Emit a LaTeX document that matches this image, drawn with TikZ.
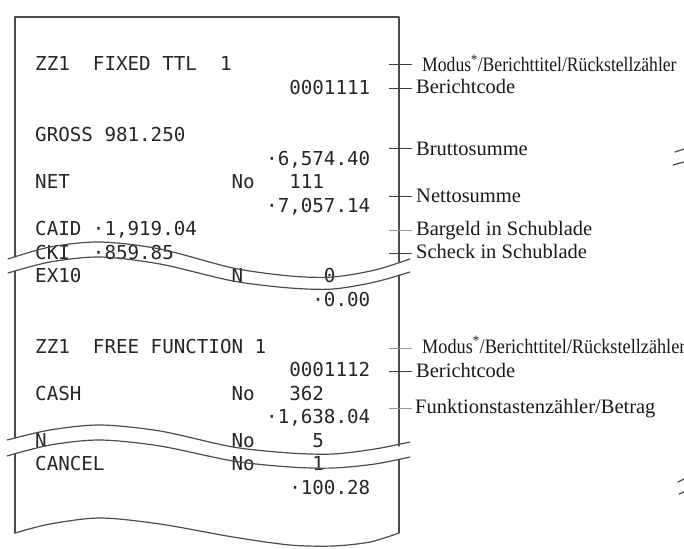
\documentclass[tikz,border=0pt]{standalone}
\usepackage{fontspec}
\setmainfont{Liberation Serif}
\newfontfamily\rcpt{DejaVu Sans Mono}
\begin{document}
\begin{tikzpicture}[x=1pt,y=-1pt,
  edge/.style={draw=black!70, line width=1.2pt, line join=round, line cap=round},
  rt/.style={anchor=base west, inner sep=0pt, font=\rcpt\fontsize{19.2}{19.2}\selectfont, text=black!85},
  lab/.style={anchor=base west, inner sep=0pt, font=\fontsize{20.5}{20.5}\selectfont, text=black!90},
  tick/.style={draw=black!75, line width=1pt},
  ltick/.style={draw=black!40, line width=1pt}]
\useasboundingbox (0,0) rectangle (684,548);
\newcommand\rcell[4]{\node[rt] (#1) at ({35+11.55*#3},{71+23.5*#2}) {#4};}
% receipt text
\rcell{a1}{0}{0}{ZZ1}\rcell{a2}{0}{5}{FIXED}\rcell{a3}{0}{11}{TTL}\rcell{a4}{0}{16}{1}
\rcell{b1}{1}{22}{0001111}
\rcell{c1}{3}{0}{GROSS}\rcell{c2}{3}{6}{981.250}
\rcell{d1}{4}{20}{·6,574.40}
\rcell{e1}{5}{0}{NET}\rcell{e2}{5}{17}{No}\rcell{e3}{5}{22}{111}
\rcell{f1}{6}{20}{·7,057.14}
\rcell{g1}{7}{0}{CAID}\rcell{g2}{7}{5}{·1,919.04}
\rcell{h1}{8}{0}{CKI}\rcell{h2}{8}{5}{·859.85}
\rcell{i1}{9}{0}{EX10}\rcell{i2}{9}{17}{N}\rcell{i3}{9}{25}{0}
\rcell{j1}{10}{24}{·0.00}
\rcell{k1}{12}{0}{ZZ1}\rcell{k2}{12}{5}{FREE}\rcell{k3}{12}{10}{FUNCTION}\rcell{k4}{12}{19}{1}
\rcell{l1}{13}{22}{0001112}
\rcell{m1}{14}{0}{CASH}\rcell{m2}{14}{17}{No}\rcell{m3}{14}{22}{362}
\rcell{n1}{15}{20}{·1,638.04}
\rcell{o1}{16}{0}{N}\rcell{o2}{16}{17}{No}\rcell{o3}{16}{24}{5}
\rcell{p1}{17}{0}{CANCEL}\rcell{p2}{17}{17}{No}\rcell{p3}{17}{24}{1}
\rcell{q1}{18}{22}{·100.28}
% receipt outline
\draw[edge] (15,257) -- (15,17) -- (399,17) -- (399,262);
\draw[edge] (15,271) -- (15,438);
\draw[edge] (399,275) -- (399,446);
\draw[edge] (15,454) -- (15,533);
\draw[edge] (399,460) -- (399,533);
% break 1
\draw[edge] plot[smooth] coordinates {(8,259) (50,247) (100,242) (160,249) (233,268) (290,276) (333,277) (375,270) (410,259)};
\draw[edge] plot[smooth] coordinates {(8,273) (50,262) (100,257) (160,264) (233,281) (290,288) (333,289) (375,282) (410,272)};
% break 2
\draw[edge] plot[smooth] coordinates {(7,440) (50,430) (100,425) (160,431) (233,447) (290,453) (333,454) (375,449) (410,442)};
\draw[edge] plot[smooth] coordinates {(7,456) (50,445) (100,440) (160,446) (233,461) (290,467) (333,468) (375,464) (410,457)};
% bottom edge
\draw[edge] plot[smooth] coordinates {(15,533) (50,524) (100,518) (160,524) (233,537) (290,545) (333,546) (370,542) (399,533)};
% partial marks at the right edge
\draw[edge] (675,152) -- (684,149);
\draw[edge] (673,165) -- (684,162);
\draw[edge] (678,482) -- (684,479);
\draw[edge] (679,494) -- (684,492);
% labels
\node[lab] (L1) at (422,72) {\scalebox{0.86}[1]{Modus\textsuperscript{*}/Berichttitel/Rückstellzähler}};
\node[lab] (L2) at (416,94) {Berichtcode};
\node[lab] (L3) at (416,155) {Bruttosumme};
\node[lab] (L4) at (416,202) {Nettosumme};
\node[lab] (L5) at (416,235) {Bargeld in Schublade};
\node[lab] (L6) at (416,258) {Scheck in Schublade};
\node[lab] (L7) at (422,353) {\scalebox{0.89}[1]{Modus\textsuperscript{*}/Berichttitel/Rückstellzähler}};
\node[lab] (L8) at (416,377) {Berichtcode};
\node[lab] (L9) at (415,413) {Funktionstastenzähler/Betrag};
% ticks
\foreach \n/\y in {1/65,2/89,3/149,4/196,6/253,8/371}{
  \coordinate (ta\n) at (389,\y); \coordinate (tb\n) at (412,\y);
  \draw[tick] (ta\n) -- (tb\n);}
\foreach \n/\y in {5/230,7/348,9/408}{
  \coordinate (ta\n) at (389,\y); \coordinate (tb\n) at (412,\y);
  \draw[ltick] (ta\n) -- (tb\n);}
\end{tikzpicture}
\end{document}
